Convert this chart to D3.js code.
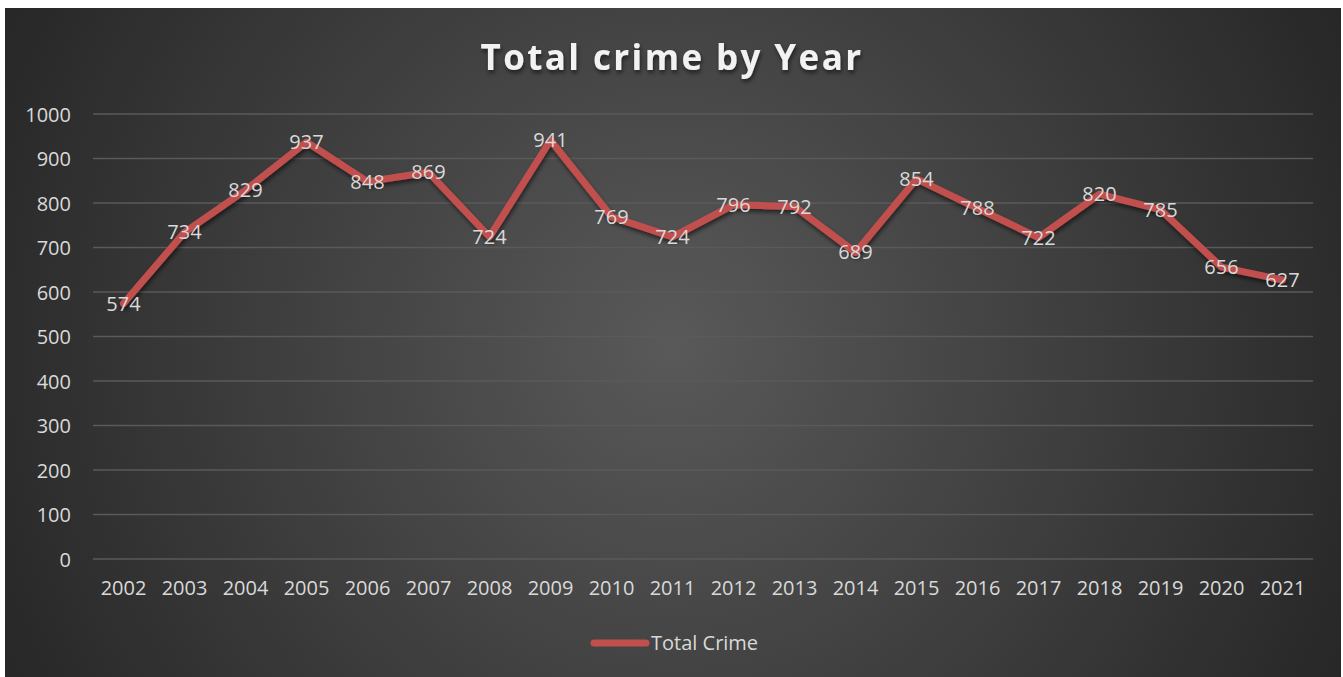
<!DOCTYPE html>
<html>
<head>
<meta charset="utf-8">
<script src="https://cdn.jsdelivr.net/npm/d3@7/dist/d3.min.js"></script>
<style>
  html, body { margin: 0; padding: 0; background: #fff; }
  svg { display: block; }
  svg text { font-family: "Open Sans", "Noto Sans", sans-serif; }
</style>
</head>
<body>
<svg id="chart" width="1343" height="677"></svg>
<script>
// data
var years = ["2002","2003","2004","2005","2006","2007","2008","2009","2010","2011",
             "2012","2013","2014","2015","2016","2017","2018","2019","2020","2021"];
var totalCrime = [574, 734, 829, 937, 848, 869, 724, 941, 769, 724,
                  796, 792, 689, 854, 788, 722, 820, 785, 656, 627];
var yTicks = [0, 100, 200, 300, 400, 500, 600, 700, 800, 900, 1000];
var seriesName = "Total Crime";
var chartTitle = "Total crime by Year";

var svg = d3.select("#chart");
var defs = svg.append("defs");

var grad = defs.append("radialGradient")
	.attr("id", "bg")
	.attr("gradientUnits", "userSpaceOnUse")
	.attr("cx", 672).attr("cy", 345).attr("r", 760);
grad.append("stop").attr("offset", "0%").attr("stop-color", "#595959");
grad.append("stop").attr("offset", "100%").attr("stop-color", "#262626");

var shadow = defs.append("filter").attr("id", "shadow")
	.attr("x", "-10%").attr("y", "-10%").attr("width", "120%").attr("height", "130%");
shadow.append("feDropShadow")
	.attr("dx", 1).attr("dy", 3).attr("stdDeviation", 2)
	.attr("flood-color", "#000").attr("flood-opacity", 0.55);

svg.append("rect")
	.attr("x", 5).attr("y", 8)
	.attr("width", 1336).attr("height", 672)
	.attr("fill", "url(#bg)");

var margin = {left: 93, right: 1313, top: 114, bottom: 559};

var x = d3.scaleBand()
	.domain(years)
	.range([margin.left, margin.right]);

var y = d3.scaleLinear()
	.domain([0, 1000])
	.range([margin.bottom, margin.top]);

// gridlines
svg.append("g")
	.selectAll("line")
	.data(yTicks)
	.join("line")
	.attr("x1", margin.left).attr("x2", margin.right)
	.attr("y1", function(d) { return y(d); })
	.attr("y2", function(d) { return y(d); })
	.attr("stroke", "#5a5a5a")
	.attr("stroke-width", 1.3);

// y axis labels
var yAxis = svg.append("g")
	.attr("transform", "translate(" + (margin.left - 22) + ",0)")
	.call(d3.axisLeft(y).tickValues(yTicks).tickFormat(d3.format("d")).tickSize(0).tickPadding(0));
yAxis.attr("font-family", null).attr("font-size", null);
yAxis.select(".domain").remove();
yAxis.selectAll("text")
	.attr("fill", "#d9d9d9")
	.style("font-size", "20px")
	.attr("dy", "0.35em");

// x axis labels
var xAxis = svg.append("g")
	.attr("transform", "translate(0," + margin.bottom + ")")
	.call(d3.axisBottom(x).tickSize(0).tickPadding(22));
xAxis.attr("font-family", null).attr("font-size", null);
xAxis.select(".domain").remove();
xAxis.selectAll("text")
	.attr("fill", "#d9d9d9")
	.style("font-size", "20px");

// title
svg.append("text")
	.attr("x", 672).attr("y", 70)
	.attr("text-anchor", "middle")
	.attr("fill", "#f2f2f2")
	.attr("filter", "url(#shadow)")
	.style("font-size", "35px")
	.style("font-weight", "bold")
	.style("letter-spacing", "2.4px")
	.text(chartTitle);

// line
var line = d3.line()
	.x(function(d, i) { return x(years[i]) + x.bandwidth() / 2; })
	.y(function(d) { return y(d); });

svg.append("path")
	.datum(totalCrime)
	.attr("d", line)
	.attr("fill", "none")
	.attr("stroke", "#c0504d")
	.attr("stroke-width", 7)
	.attr("stroke-linejoin", "round")
	.attr("stroke-linecap", "round")
	.attr("filter", "url(#shadow)");

// data labels, centred on the points
svg.append("g")
	.selectAll("text")
	.data(totalCrime)
	.join("text")
	.attr("x", function(d, i) { return x(years[i]) + x.bandwidth() / 2; })
	.attr("y", function(d) { return y(d); })
	.attr("dy", "0.35em")
	.attr("text-anchor", "middle")
	.attr("fill", "#d9d9d9")
	.style("font-size", "20px")
	.text(function(d) { return d; });

// legend
var legend = svg.append("g").attr("transform", "translate(594,643)");
legend.append("line")
	.attr("x1", 0).attr("x2", 52)
	.attr("stroke", "#c0504d")
	.attr("stroke-width", 7)
	.attr("stroke-linecap", "round");
legend.append("text")
	.attr("x", 57).attr("dy", "0.35em")
	.attr("fill", "#d9d9d9")
	.style("font-size", "20px")
	.text(seriesName);
</script>
</body>
</html>
